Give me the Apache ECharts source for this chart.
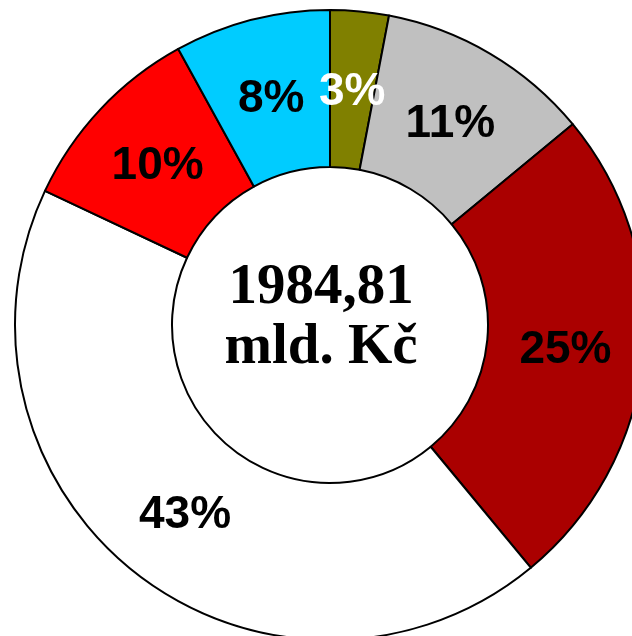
<!DOCTYPE html>
<html>
<head>
<meta charset="utf-8">
<script src="https://cdn.jsdelivr.net/npm/echarts@6/dist/echarts.min.js"></script>
<style>
html,body{margin:0;padding:0;background:#fff;}
#c{width:632px;height:636px;}
</style>
</head>
<body>
<div id="c"></div>
<script>
const categories = ['A', 'B', 'C', 'D', 'E', 'F'];
const values = [3, 11, 25, 43, 10, 8];
const sliceColors = ['#808000', '#c0c0c0', '#aa0000', '#ffffff', '#ff0000', '#00ccff'];
const labelColors = ['#ffffff', '#000000', '#000000', '#000000', '#000000', '#000000'];
const centerLines = ['1984,81', 'mld. Kč'];

const CX = 330, CY = 325;
const chart = echarts.init(document.getElementById('c'), null, {renderer: 'canvas'});
chart.setOption({
  backgroundColor: '#ffffff',
  animation: false,
  title: {
    text: centerLines.join('\n'),
    left: 321,
    top: 318,
    padding: 0,
    textAlign: 'center',
    textVerticalAlign: 'middle',
    textStyle: {
      fontFamily: 'Liberation Serif',
      fontWeight: 'bold',
      fontSize: 57,
      lineHeight: 60,
      color: '#000'
    }
  },
  series: [{
    type: 'pie',
    center: [CX, CY],
    radius: [158, 315],
    startAngle: 90,
    clockwise: true,
    avoidLabelOverlap: false,
    itemStyle: {borderColor: '#000', borderWidth: 2},
    label: {
      show: true,
      position: 'inside',
      formatter: '{c}%',
      fontFamily: 'Liberation Sans',
      fontWeight: 'bold',
      fontSize: 46
    },
    labelLayout: function (p) {
      const r = p.labelRect;
      const lx = r.x + r.width / 2, ly = r.y + r.height / 2;
      const dx = lx - CX, dy = ly - CY;
      const len = Math.sqrt(dx * dx + dy * dy);
      const k = (len - 3) / len;
      return {x: CX + dx * k, y: CY + dy * k + 3, align: 'center', verticalAlign: 'middle'};
    },
    labelLine: {show: false},
    emphasis: {disabled: true},
    data: categories.map((n, i) => ({
      name: n,
      value: values[i],
      itemStyle: {color: sliceColors[i]},
      label: {color: labelColors[i]}
    }))
  }]
});
</script>
</body>
</html>
